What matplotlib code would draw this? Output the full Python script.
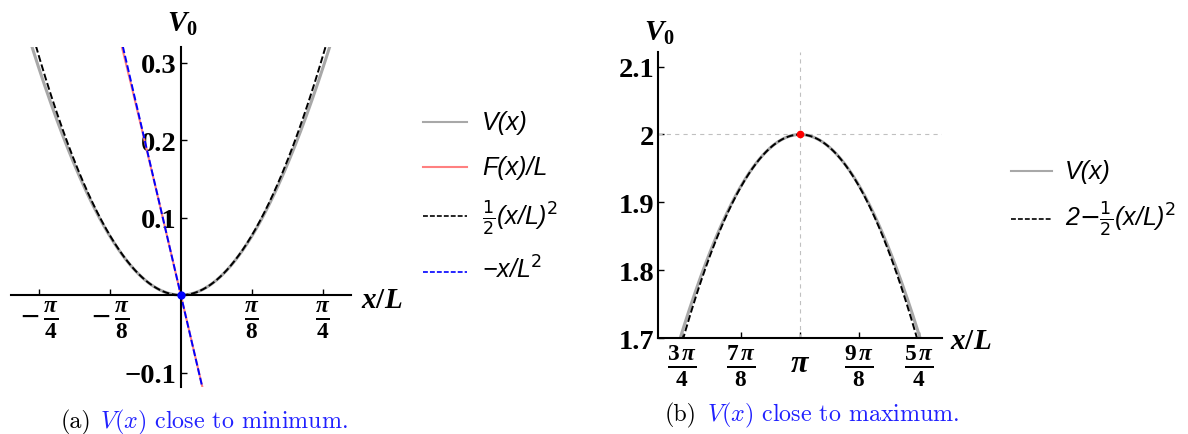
import numpy as np
import matplotlib.pyplot as plt
from matplotlib.lines import Line2D

plt.rcParams['mathtext.fontset'] = 'custom'
plt.rcParams['mathtext.rm'] = 'Liberation Serif:bold'
plt.rcParams['mathtext.it'] = 'Liberation Serif:italic:bold'
plt.rcParams['mathtext.bf'] = 'Liberation Serif:bold'
plt.rcParams['lines.scale_dashes'] = False

# panel (a): potential near its minimum at x = 0
xlim_a = (-0.94, 0.94)
ylim_a = (-0.119, 0.32)
xticks_a = [-np.pi / 4, -np.pi / 8, np.pi / 8, np.pi / 4]
xticklabels_a = [r'$-\,\frac{\pi}{4}$', r'$-\,\frac{\pi}{8}$', r'$\frac{\pi}{8}$', r'$\frac{\pi}{4}$']
yticks_a = [-0.1, 0.1, 0.2, 0.3]
yticklabels_a = ['\u22120.1', '0.1', '0.2', '0.3']
min_point = (0.0, 0.0)

# panel (b): potential near its maximum at x = pi
xlim_b = (np.pi - 0.94, np.pi + 0.94)
ylim_b = (1.7, 2.121)
xticks_b = [3 * np.pi / 4, 7 * np.pi / 8, np.pi, 9 * np.pi / 8, 5 * np.pi / 4]
xticklabels_b = [r'$\frac{3\,\pi}{4}$', r'$\frac{7\,\pi}{8}$', '', r'$\frac{9\,\pi}{8}$', r'$\frac{5\,\pi}{4}$']
yticks_b = [1.7, 1.8, 1.9, 2.0, 2.1]
yticklabels_b = ['1.7', '1.8', '1.9', '2', '2.1']
max_point = (np.pi, 2.0)

gray = '#a8a8a8'
pink = '#ff8080'
tick_font = dict(family='Liberation Serif', weight='bold', size=20.5)

W, H = 1188, 435
fig = plt.figure(figsize=(W / 100, H / 100), dpi=100)


def px(x, y):
    # pixel position (from top-left) -> figure fraction
    return x / W, 1 - y / H


def style_axes(ax):
    for s in ['top', 'right']:
        ax.spines[s].set_visible(False)
    for s in ['left', 'bottom']:
        ax.spines[s].set_linewidth(1.5)
    ax.tick_params(direction='in', length=4, width=1, pad=3)
    ax.patch.set_alpha(0)


# ---------------- panel (a)
ax1 = fig.add_axes([11 / W, 1 - 388.3 / H, 339.7 / W, 340 / H])
style_axes(ax1)
ax1.spines['left'].set_position(('data', 0))
ax1.spines['bottom'].set_position(('data', 0))
xa = np.linspace(xlim_a[0], xlim_a[1], 600)
ax1.plot(xa, 1 - np.cos(xa), color=gray, lw=2.2)
ax1.plot(xa, -np.sin(xa), color=pink, lw=1.5)
ax1.plot(xa, xa ** 2 / 2, color='black', lw=1.4, dashes=(5, 2))
ax1.plot(xa, -xa, color='blue', lw=1.4, dashes=(5, 2))
ax1.plot(*min_point, 'o', color='blue', ms=5, zorder=5)
ax1.set_xlim(xlim_a)
ax1.set_ylim(ylim_a)
ax1.set_xticks(xticks_a)
ax1.set_xticklabels(xticklabels_a, fontsize=24)
ax1.set_yticks(yticks_a)
ax1.set_yticklabels(yticklabels_a, **tick_font)

# ---------------- panel (b)
ax2 = fig.add_axes([658.3 / W, 1 - 339.3 / H, 283.7 / W, 286 / H])
style_axes(ax2)
xb = np.linspace(xlim_b[0], xlim_b[1], 600)
ax2.axvline(max_point[0], color='#c0c0c0', lw=0.8, dashes=(3, 3))
ax2.axhline(max_point[1], color='#c0c0c0', lw=0.8, dashes=(3, 3))
ax2.plot(xb, 1 - np.cos(xb), color=gray, lw=2.2)
ax2.plot(xb, 2 - (xb - np.pi) ** 2 / 2, color='black', lw=1.4, dashes=(5, 2))
ax2.plot(*max_point, 'o', color='red', ms=4.5, zorder=5, clip_on=False)
ax2.set_xlim(xlim_b)
ax2.set_ylim(ylim_b)
ax2.set_xticks(xticks_b)
ax2.set_xticklabels(xticklabels_b, fontsize=24)
ax2.set_yticks(yticks_b)
ax2.set_yticklabels(yticklabels_b, **tick_font)
ax2.text(np.pi, -0.085, r'$\pi$', transform=ax2.get_xaxis_transform(),
         ha='center', va='center', fontsize=23)

# axis labels
lab = dict(fontsize=21, ha='center', va='center')
fig.text(*px(182, 24), r'$V_0$', **lab)
fig.text(*px(659, 33), r'$V_0$', **lab)
fig.text(*px(382, 300), r'$x/L$', **lab)
fig.text(*px(971, 341), r'$x/L$', **lab)

# legends
leg_font = dict(family='Liberation Sans', style='italic', size=18,
                math_fontfamily='dejavusans', va='center')


def legend_line(x0, x1, y, **kw):
    fig.add_artist(Line2D([x0 / W, x1 / W], [1 - y / H, 1 - y / H],
                          transform=fig.transFigure, **kw))


legend_line(423, 467, 123, color=gray, lw=1.5)
fig.text(*px(482, 123), 'V(x)', **leg_font)
legend_line(423, 467, 168, color=pink, lw=1.5)
fig.text(*px(482, 168), 'F(x)/L', **leg_font)
legend_line(423, 467, 217, color='black', lw=1.2, dashes=(3.5, 1.5))
fig.text(*px(482, 218), r'$\frac{1}{2}$(x/L)$^2$', **leg_font)
legend_line(423, 467, 273, color='blue', lw=1.2, dashes=(3.5, 1.5))
fig.text(*px(482, 270), '\u2212x/L$^2$', **leg_font)

legend_line(1011, 1052, 172, color=gray, lw=1.5)
fig.text(*px(1065, 172), 'V(x)', **leg_font)
legend_line(1011, 1052, 220, color='black', lw=1.2, dashes=(3.5, 1.5))
fig.text(*px(1065, 219), r'2$-\frac{1}{2}$(x/L)$^2$', **leg_font)

# captions
cap = dict(family='cmr10', math_fontfamily='cm', fontsize=17.3, va='center')
fig.text(*px(91, 422), '(a)', ha='right', **cap)
fig.text(*px(100, 422), r'$V(x)$ close to minimum.', ha='left', color='#2020ff', **cap)
fig.text(*px(697, 415), '(b)', ha='right', **cap)
fig.text(*px(707, 415), r'$V(x)$ close to maximum.', ha='left', color='#2020ff', **cap)

fig.savefig('out.png', dpi=100)
